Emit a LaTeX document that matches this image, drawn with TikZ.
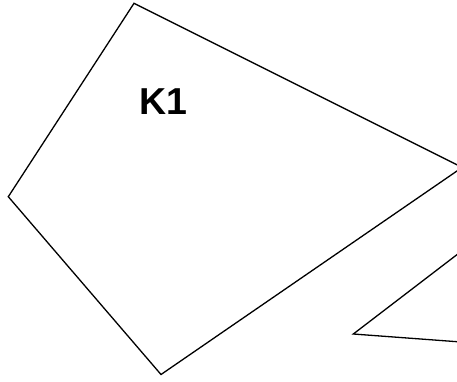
\documentclass[tikz,border=0pt]{standalone}
\usepackage{fontspec}
\setmainfont{Liberation Sans}
\usetikzlibrary{positioning}

\begin{document}
\begin{tikzpicture}[
  x=1pt, y=-1pt,
  %% style definitions
  edge/.style  = {draw=black, line width=1.3pt, line join=miter},
  lbl/.style   = {font=\fontsize{37.5}{40}\selectfont\bfseries,
                  inner sep=0pt, anchor=base},
]

%% ── Frame ────────────────────────────────────────────────────────────────────
\useasboundingbox (0,0) rectangle (457,381);
\clip (0,0) rectangle (457,381);

%% ── Corner points ────────────────────────────────────────────────────────────
\coordinate (kTop)    at (134,3.3);
\coordinate (kRight)  at (462.2,167.4);
\coordinate (kBottom) at (161,374.5);
\coordinate (kLeft)   at (8.3,196.7);

\coordinate (tUpper)  at (480,237);
\coordinate (tTip)    at (353.3,334);
\coordinate (tLower)  at (480,343.4);

%% ── Polygon K1 ───────────────────────────────────────────────────────────────
\draw[edge] (kTop) -- (kRight) -- (kBottom) -- (kLeft) -- cycle;
\node[lbl] (k1) at (163.5,114.3) {K1};

%% ── Second shape (cut at the edge) ───────────────────────────────────────────
\draw[edge] (tUpper) -- (tTip) -- (tLower);

\end{tikzpicture}
\end{document}
